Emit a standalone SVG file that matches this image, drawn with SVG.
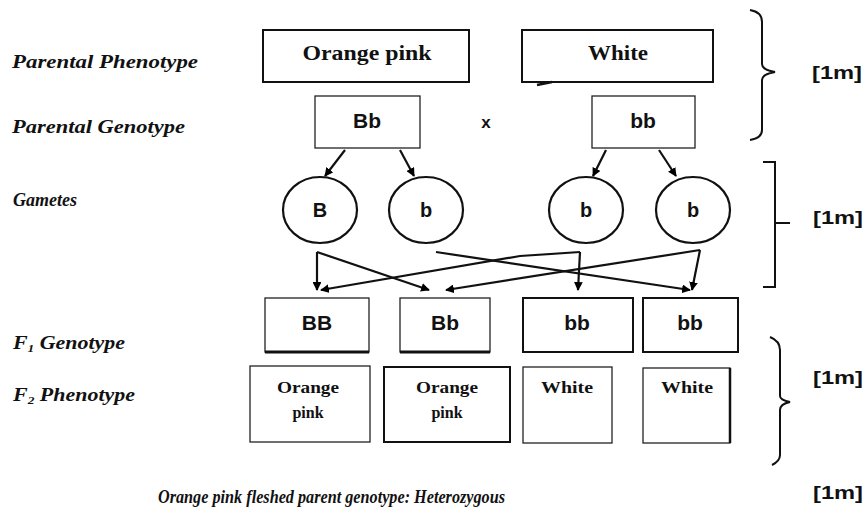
<svg xmlns="http://www.w3.org/2000/svg" width="866" height="515" viewBox="0 0 866 515">
<defs>
<marker id="ah" viewBox="0 0 10 10" refX="9" refY="5" markerWidth="4" markerHeight="4" orient="auto" markerUnits="strokeWidth">
<path d="M0,0 L10,5 L0,10 Z" fill="#000"/>
</marker>
<style>
.lbl{font-family:"Liberation Serif",serif;font-style:italic;font-weight:bold;font-size:18px;fill:#111}
.ser{font-family:"Liberation Serif",serif;font-weight:bold;fill:#111;text-anchor:middle}
.san{font-family:"Liberation Sans",Arial,sans-serif;font-weight:bold;fill:#111;text-anchor:middle}
.box{fill:#fff;stroke:#111;stroke-width:2}
.thin{fill:#fff;stroke:#222;stroke-width:1.3}
.gam{fill:#fff;stroke:#111;stroke-width:2.2}
.con{fill:none;stroke:#111;stroke-width:2.2;marker-end:url(#ah)}
.brace{fill:none;stroke:#111;stroke-width:2}
.mark{font-family:"Liberation Sans",Arial,sans-serif;font-weight:bold;font-size:19px;fill:#111}
</style>
</defs>
<rect width="866" height="515" fill="#fff"/>

<g id="labels">
<text class="lbl" x="12" y="68" textLength="186" lengthAdjust="spacingAndGlyphs">Parental Phenotype</text>
<text class="lbl" x="12" y="133" textLength="173" lengthAdjust="spacingAndGlyphs">Parental Genotype</text>
<text class="lbl" x="13" y="206" textLength="64" lengthAdjust="spacingAndGlyphs">Gametes</text>
<text class="lbl" x="13" y="349" textLength="112" lengthAdjust="spacingAndGlyphs">F<tspan font-size="11" dy="3">1</tspan><tspan dy="-3"> Genotype</tspan></text>
<text class="lbl" x="13" y="401" textLength="122" lengthAdjust="spacingAndGlyphs">F<tspan font-size="11" dy="3">2</tspan><tspan dy="-3"> Phenotype</tspan></text>
</g>

<g id="p1-phenotype">
<rect class="box" x="263" y="30" width="206" height="52"/>
<text class="ser" x="367" y="60" font-size="20" textLength="129" lengthAdjust="spacingAndGlyphs">Orange pink</text>
</g>
<g id="p2-phenotype">
<rect class="box" x="522" y="30" width="191" height="52"/>
<text class="ser" x="618" y="60" font-size="20" textLength="60" lengthAdjust="spacingAndGlyphs">White</text>
<path d="M537,85 L552,82" stroke="#111" stroke-width="2.5" fill="none"/>
</g>

<g id="p1-genotype">
<rect class="thin" x="315" y="96" width="105" height="52"/>
<text class="san" x="367" y="128" font-size="21">Bb</text>
</g>
<g id="cross">
<text class="san" x="486" y="128" font-size="17">x</text>
</g>
<g id="p2-genotype">
<rect class="thin" x="592" y="96" width="103" height="52"/>
<text class="san" x="643" y="128" font-size="21">bb</text>
</g>

<g id="gamete-B">
<ellipse class="gam" cx="320" cy="210" rx="37" ry="33"/>
<text class="san" x="320" y="217" font-size="20">B</text>
</g>
<g id="gamete-b1">
<ellipse class="gam" cx="426" cy="210" rx="37" ry="33"/>
<text class="san" x="426" y="217" font-size="20">b</text>
</g>
<g id="gamete-b2">
<ellipse class="gam" cx="586" cy="210" rx="37" ry="33"/>
<text class="san" x="586" y="217" font-size="20">b</text>
</g>
<g id="gamete-b3">
<ellipse class="gam" cx="693" cy="210" rx="37" ry="33"/>
<text class="san" x="693" y="217" font-size="20">b</text>
</g>

<g id="f1-BB">
<rect class="thin" x="265" y="298" width="104" height="54"/>
<line x1="265" y1="352" x2="369" y2="352" stroke="#111" stroke-width="3"/>
<text class="san" x="317" y="330" font-size="21">BB</text>
</g>
<g id="f1-Bb">
<rect class="thin" x="400" y="298" width="90" height="54"/>
<line x1="400" y1="352" x2="490" y2="352" stroke="#111" stroke-width="3"/>
<text class="san" x="445" y="330" font-size="21">Bb</text>
</g>
<g id="f1-bb1">
<rect class="box" x="523" y="298" width="110" height="54"/>
<text class="san" x="577" y="330" font-size="21">bb</text>
</g>
<g id="f1-bb2">
<rect class="box" x="643" y="298" width="95" height="54"/>
<text class="san" x="690" y="330" font-size="21">bb</text>
</g>

<g id="f2-1">
<rect class="thin" x="250" y="366" width="120" height="76"/>
<text class="ser" x="308" y="393" font-size="16" textLength="62" lengthAdjust="spacingAndGlyphs">Orange</text>
<text class="ser" x="308" y="418" font-size="16">pink</text>
</g>
<g id="f2-2">
<rect class="box" x="384" y="367" width="126" height="75"/>
<text class="ser" x="447" y="393" font-size="16" textLength="62" lengthAdjust="spacingAndGlyphs">Orange</text>
<text class="ser" x="447" y="418" font-size="16">pink</text>
</g>
<g id="f2-3">
<rect class="thin" x="523" y="367" width="89" height="76"/>
<text class="ser" x="567" y="393" font-size="16" textLength="52" lengthAdjust="spacingAndGlyphs">White</text>
</g>
<g id="f2-4">
<rect class="thin" x="643" y="368" width="87" height="75"/>
<line x1="730" y1="368" x2="730" y2="443" stroke="#111" stroke-width="2.5"/>
<text class="ser" x="687" y="393" font-size="16" textLength="52" lengthAdjust="spacingAndGlyphs">White</text>
</g>

<g id="connectors">
<line class="con" x1="345" y1="150" x2="325" y2="176"/>
<line class="con" x1="400" y1="150" x2="414" y2="176"/>
<line class="con" x1="606" y1="150" x2="593" y2="176"/>
<line class="con" x1="659" y1="150" x2="676" y2="176"/>
<polyline class="con" points="317,252 317,290"/>
<line class="con" x1="317" y1="252" x2="429" y2="290"/>
<line class="con" x1="436" y1="252" x2="690" y2="290"/>
<polyline class="con" points="580,252 578,290"/>
<polyline class="con" points="580,252 520,256 321,290"/>
<polyline class="con" points="700,250 692,290"/>
<line class="con" x1="700" y1="250" x2="446" y2="290"/>
</g>

<g id="marks">
<path class="brace" d="M750,10 Q762,12 762,22 L762,64 Q762,70 775,72 Q762,74 762,80 L762,130 Q762,138 750,140"/>
<path class="brace" d="M763,162 L775,162 L775,287 L763,287 M775,223 L790,223"/>
<path class="brace" d="M770,337 Q780,341 780,350 L780,396 Q780,400 790,402 Q780,404 780,410 L780,455 Q780,461 772,465"/>
<text class="mark" x="812" y="79" textLength="50" lengthAdjust="spacingAndGlyphs">[1m]</text>
<text class="mark" x="813" y="224" textLength="50" lengthAdjust="spacingAndGlyphs">[1m]</text>
<text class="mark" x="813" y="384" textLength="50" lengthAdjust="spacingAndGlyphs">[1m]</text>
<text class="mark" x="813" y="499" textLength="50" lengthAdjust="spacingAndGlyphs">[1m]</text>
</g>

<g id="conclusion">
<text class="lbl" x="158" y="503" textLength="347" lengthAdjust="spacingAndGlyphs">Orange pink fleshed parent genotype: Heterozygous</text>
</g>
</svg>
